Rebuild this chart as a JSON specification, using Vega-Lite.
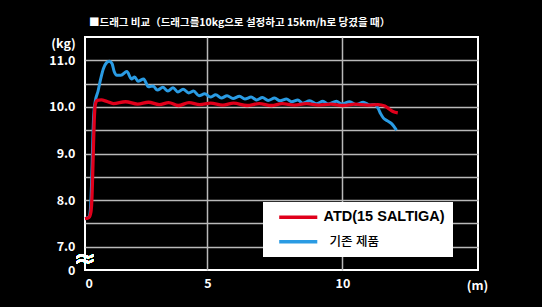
{
  "$schema": "https://vega.github.io/schema/vega-lite/v6.json",
  "width": 393,
  "height": 233,
  "autosize": {"type": "none"},
  "padding": {"left": 85, "top": 37, "right": 64, "bottom": 37},
  "background": "black",
  "title": {
    "text": "■드래그 비교（드래그를10kg으로 설정하고 15km/h로 당겼을 때）",
    "anchor": "start",
    "frame": "group",
    "color": "white",
    "font": "Noto Sans CJK KR",
    "fontSize": 10.5,
    "fontWeight": "bold",
    "dx": 4,
    "offset": 9
  },
  "config": {
    "view": {"stroke": "white", "strokeWidth": 2},
    "font": "Noto Sans CJK KR"
  },
  "datasets": {
    "drag": [
      {"series": "기존 제품", "d": 0.47, "kg": 7.60},
      {"series": "기존 제품", "d": 0.62, "kg": 7.64},
      {"series": "기존 제품", "d": 0.67, "kg": 7.8},
      {"series": "기존 제품", "d": 0.71, "kg": 8.3},
      {"series": "기존 제품", "d": 0.75, "kg": 9.1},
      {"series": "기존 제품", "d": 0.79, "kg": 9.8},
      {"series": "기존 제품", "d": 0.85, "kg": 10.12},
      {"series": "기존 제품", "d": 0.95, "kg": 10.33},
      {"series": "기존 제품", "d": 1.05, "kg": 10.6},
      {"series": "기존 제품", "d": 1.15, "kg": 10.82},
      {"series": "기존 제품", "d": 1.27, "kg": 10.95},
      {"series": "기존 제품", "d": 1.37, "kg": 10.98},
      {"series": "기존 제품", "d": 1.47, "kg": 10.93},
      {"series": "기존 제품", "d": 1.55, "kg": 10.76},
      {"series": "기존 제품", "d": 1.65, "kg": 10.68},
      {"series": "기존 제품", "d": 1.8, "kg": 10.68},
      {"series": "기존 제품", "d": 2.02, "kg": 10.76},
      {"series": "기존 제품", "d": 2.19, "kg": 10.6},
      {"series": "기존 제품", "d": 2.31, "kg": 10.64},
      {"series": "기존 제품", "d": 2.43, "kg": 10.55},
      {"series": "기존 제품", "d": 2.64, "kg": 10.6},
      {"series": "기존 제품", "d": 2.82, "kg": 10.43},
      {"series": "기존 제품", "d": 2.99, "kg": 10.45},
      {"series": "기존 제품", "d": 3.15, "kg": 10.36},
      {"series": "기존 제품", "d": 3.35, "kg": 10.42},
      {"series": "기존 제품", "d": 3.54, "kg": 10.34},
      {"series": "기존 제품", "d": 3.73, "kg": 10.41},
      {"series": "기존 제품", "d": 3.91, "kg": 10.32},
      {"series": "기존 제품", "d": 4.1, "kg": 10.38},
      {"series": "기존 제품", "d": 4.31, "kg": 10.3},
      {"series": "기존 제품", "d": 4.49, "kg": 10.34},
      {"series": "기존 제품", "d": 4.69, "kg": 10.24},
      {"series": "기존 제품", "d": 4.9, "kg": 10.28},
      {"series": "기존 제품", "d": 5.11, "kg": 10.21},
      {"series": "기존 제품", "d": 5.31, "kg": 10.26},
      {"series": "기존 제품", "d": 5.52, "kg": 10.19},
      {"series": "기존 제품", "d": 5.73, "kg": 10.24},
      {"series": "기존 제품", "d": 5.95, "kg": 10.18},
      {"series": "기존 제품", "d": 6.19, "kg": 10.23},
      {"series": "기존 제품", "d": 6.39, "kg": 10.17},
      {"series": "기존 제품", "d": 6.62, "kg": 10.21},
      {"series": "기존 제품", "d": 6.82, "kg": 10.15},
      {"series": "기존 제품", "d": 7.04, "kg": 10.2},
      {"series": "기존 제품", "d": 7.25, "kg": 10.14},
      {"series": "기존 제품", "d": 7.49, "kg": 10.19},
      {"series": "기존 제품", "d": 7.69, "kg": 10.13},
      {"series": "기존 제품", "d": 7.93, "kg": 10.17},
      {"series": "기존 제품", "d": 8.12, "kg": 10.11},
      {"series": "기존 제품", "d": 8.35, "kg": 10.15},
      {"series": "기존 제품", "d": 8.52, "kg": 10.08},
      {"series": "기존 제품", "d": 8.79, "kg": 10.13},
      {"series": "기존 제품", "d": 9.04, "kg": 10.07},
      {"series": "기존 제품", "d": 9.28, "kg": 10.12},
      {"series": "기존 제품", "d": 9.47, "kg": 10.06},
      {"series": "기존 제품", "d": 9.78, "kg": 10.12},
      {"series": "기존 제품", "d": 9.97, "kg": 10.06},
      {"series": "기존 제품", "d": 10.27, "kg": 10.11},
      {"series": "기존 제품", "d": 10.52, "kg": 10.05},
      {"series": "기존 제품", "d": 10.77, "kg": 10.1},
      {"series": "기존 제품", "d": 11.02, "kg": 10.04},
      {"series": "기존 제품", "d": 11.19, "kg": 10.05},
      {"series": "기존 제품", "d": 11.32, "kg": 9.97},
      {"series": "기존 제품", "d": 11.42, "kg": 9.85},
      {"series": "기존 제품", "d": 11.52, "kg": 9.76},
      {"series": "기존 제품", "d": 11.67, "kg": 9.7},
      {"series": "기존 제품", "d": 11.82, "kg": 9.64},
      {"series": "기존 제품", "d": 12.0, "kg": 9.5},
      {"series": "ATD(15 SALTIGA)", "d": 0.47, "kg": 7.60},
      {"series": "ATD(15 SALTIGA)", "d": 0.62, "kg": 7.63},
      {"series": "ATD(15 SALTIGA)", "d": 0.69, "kg": 7.75},
      {"series": "ATD(15 SALTIGA)", "d": 0.73, "kg": 8.1},
      {"series": "ATD(15 SALTIGA)", "d": 0.77, "kg": 8.9},
      {"series": "ATD(15 SALTIGA)", "d": 0.81, "kg": 9.7},
      {"series": "ATD(15 SALTIGA)", "d": 0.85, "kg": 10.05},
      {"series": "ATD(15 SALTIGA)", "d": 0.92, "kg": 10.14},
      {"series": "ATD(15 SALTIGA)", "d": 1.07, "kg": 10.15},
      {"series": "ATD(15 SALTIGA)", "d": 1.27, "kg": 10.12},
      {"series": "ATD(15 SALTIGA)", "d": 1.52, "kg": 10.07},
      {"series": "ATD(15 SALTIGA)", "d": 1.97, "kg": 10.11},
      {"series": "ATD(15 SALTIGA)", "d": 2.42, "kg": 10.06},
      {"series": "ATD(15 SALTIGA)", "d": 2.82, "kg": 10.1},
      {"series": "ATD(15 SALTIGA)", "d": 3.22, "kg": 10.05},
      {"series": "ATD(15 SALTIGA)", "d": 3.57, "kg": 10.09},
      {"series": "ATD(15 SALTIGA)", "d": 3.92, "kg": 10.03},
      {"series": "ATD(15 SALTIGA)", "d": 4.32, "kg": 10.09},
      {"series": "ATD(15 SALTIGA)", "d": 4.72, "kg": 10.05},
      {"series": "ATD(15 SALTIGA)", "d": 5.12, "kg": 10.08},
      {"series": "ATD(15 SALTIGA)", "d": 5.57, "kg": 10.04},
      {"series": "ATD(15 SALTIGA)", "d": 5.97, "kg": 10.08},
      {"series": "ATD(15 SALTIGA)", "d": 6.47, "kg": 10.03},
      {"series": "ATD(15 SALTIGA)", "d": 6.92, "kg": 10.07},
      {"series": "ATD(15 SALTIGA)", "d": 7.37, "kg": 10.03},
      {"series": "ATD(15 SALTIGA)", "d": 7.77, "kg": 10.07},
      {"series": "ATD(15 SALTIGA)", "d": 8.22, "kg": 10.04},
      {"series": "ATD(15 SALTIGA)", "d": 8.67, "kg": 10.07},
      {"series": "ATD(15 SALTIGA)", "d": 9.12, "kg": 10.04},
      {"series": "ATD(15 SALTIGA)", "d": 9.57, "kg": 10.06},
      {"series": "ATD(15 SALTIGA)", "d": 10.02, "kg": 10.03},
      {"series": "ATD(15 SALTIGA)", "d": 10.47, "kg": 10.06},
      {"series": "ATD(15 SALTIGA)", "d": 10.92, "kg": 10.04},
      {"series": "ATD(15 SALTIGA)", "d": 11.32, "kg": 10.05},
      {"series": "ATD(15 SALTIGA)", "d": 11.57, "kg": 10.02},
      {"series": "ATD(15 SALTIGA)", "d": 11.72, "kg": 9.96},
      {"series": "ATD(15 SALTIGA)", "d": 11.87, "kg": 9.9},
      {"series": "ATD(15 SALTIGA)", "d": 12.05, "kg": 9.87}
    ]
  },
  "data": {"name": "drag"},
  "encoding": {
    "x": {
      "field": "d",
      "type": "quantitative",
      "scale": {"domain": [0.47, 15.02], "nice": false, "zero": false},
      "axis": {
        "values": [0.47, 5, 10],
        "labelExpr": "datum.value < 1 ? '0' : format(datum.value, 'd')",
        "ticks": false,
        "domain": false,
        "labelOverlap": false,
        "gridColor": {"condition": {"test": "datum.value < 1", "value": "transparent"}, "value": "#b9b9b9"},
        "gridWidth": 1.5,
        "labelColor": "white",
        "labelFont": "Noto Sans CJK KR",
        "labelFontSize": 12.5,
        "labelFontWeight": "bold",
        "labelPadding": 7,
        "title": "(m)",
        "titleX": 392,
        "titleY": 15,
        "titleAlign": "center",
        "titleBaseline": "middle",
        "titleColor": "white",
        "titleFont": "Noto Sans CJK KR",
        "titleFontSize": 12.5,
        "titleFontWeight": "bold"
      }
    },
    "y": {
      "field": "kg",
      "type": "quantitative",
      "scale": {"domain": [6.5, 11.5], "nice": false, "zero": false},
      "axis": {
        "values": [6.5, 7, 7.5, 8, 8.5, 9, 9.5, 10, 10.5, 11],
        "labelExpr": "datum.value == 6.5 ? '0' : (datum.value % 1 == 0 ? format(datum.value, '.1f') : '')",
        "ticks": false,
        "domain": false,
        "labelOverlap": false,
        "gridColor": {"condition": {"test": "datum.value == 6.5", "value": "transparent"}, "value": "#b9b9b9"},
        "gridWidth": 1.5,
        "labelColor": "white",
        "labelFont": "Noto Sans CJK KR",
        "labelFontSize": 12.5,
        "labelFontWeight": "bold",
        "labelPadding": 10,
        "title": "(kg)",
        "titleAngle": 0,
        "titleX": -22,
        "titleY": 6,
        "titleAlign": "center",
        "titleBaseline": "middle",
        "titleColor": "white",
        "titleFont": "Noto Sans CJK KR",
        "titleFontSize": 12.5,
        "titleFontWeight": "bold"
      }
    },
    "color": {
      "field": "series",
      "type": "nominal",
      "scale": {"domain": ["ATD(15 SALTIGA)", "기존 제품"], "range": ["#e0001b", "#2a9be3"]},
      "legend": {
        "title": null,
        "orient": "none",
        "legendX": 178,
        "legendY": 165,
        "fillColor": "white",
        "padding": 8,
        "symbolType": "M-5,0H5",
        "symbolSize": 58,
        "symbolStrokeWidth": 3.5,
        "symbolOffset": 20,
        "labelOffset": {"expr": "datum.value == '기존 제품' ? 24 : 18"},
        "labelFont": "Liberation Sans, Noto Sans CJK KR",
        "labelFontSize": {"expr": "datum.value == '기존 제품' ? 12.5 : 14.5"},
        "labelColor": "black",
        "labelFontWeight": {"expr": "datum.value == '기존 제품' ? 500 : 'bold'"},
        "labelExpr": "datum.value == '기존 제품' ? datum.label : datum.label + '\u2002'",
        "rowPadding": 9.5
      }
    }
  },
  "layer": [
    {
      "transform": [{"filter": "datum.series == '기존 제품'"}],
      "mark": {"type": "line", "interpolate": "monotone", "strokeWidth": 3}
    },
    {
      "transform": [{"filter": "datum.series != '기존 제품'"}],
      "mark": {"type": "line", "interpolate": "monotone", "strokeWidth": 3.3}
    },
    {
      "mark": {"type": "text", "text": "≈", "color": "white", "fontSize": 26, "font": "DejaVu Sans"},
      "encoding": {
        "x": {"datum": 0.47, "type": "quantitative"},
        "y": {"datum": 6.73, "type": "quantitative"},
        "color": {"value": "white"}
      }
    }
  ]
}
